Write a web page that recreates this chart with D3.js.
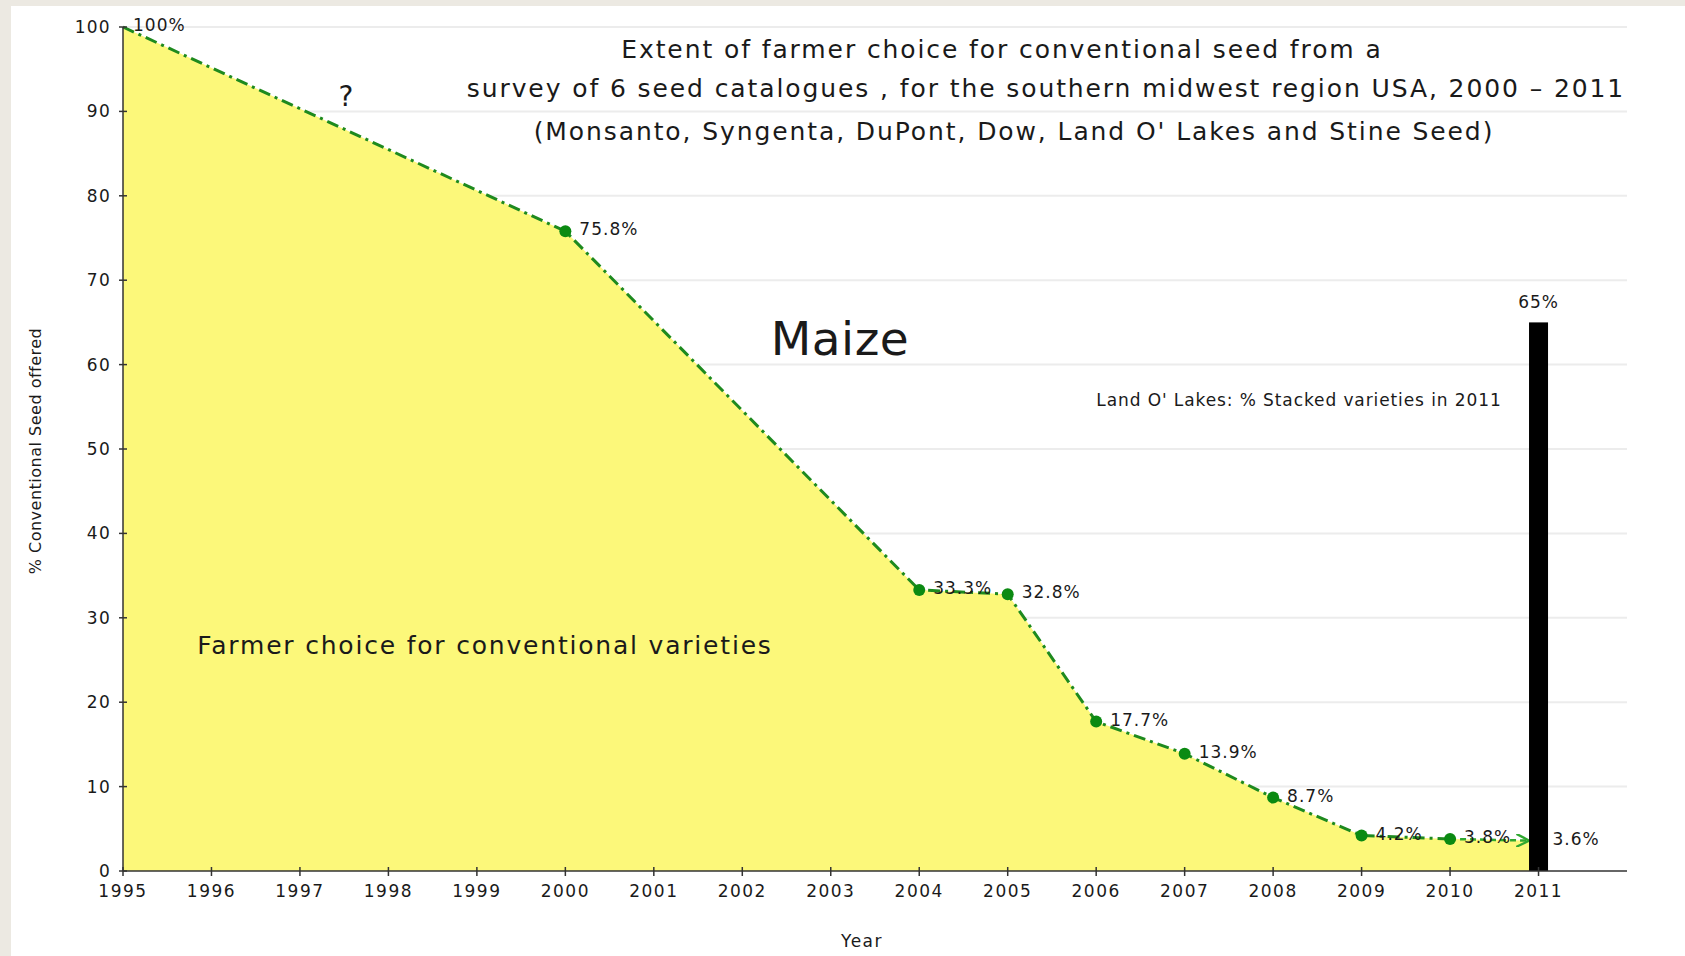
<!DOCTYPE html>
<html>
<head>
<meta charset="utf-8">
<script src="https://cdn.jsdelivr.net/npm/d3@7"></script>
<style>
  body { margin: 0; background: #ece9e2; }
  text { font-family: "DejaVu Sans", Verdana, sans-serif; fill: #1a1a1a; }
</style>
</head>
<body>
<svg id="chart" width="1685" height="956"></svg>
<script>
// maize, % conventional seed offered
const years = [1995, 2000, 2004, 2005, 2006, 2007, 2008, 2009, 2010, 2011];
const conventional = [100, 75.8, 33.3, 32.8, 17.7, 13.9, 8.7, 4.2, 3.8, 3.6];
const pointLabels = ["100%", "75.8%", "33.3%", "32.8%", "17.7%", "13.9%", "8.7%", "4.2%", "3.8%", "3.6%"];

// Land O' Lakes stacked varieties bar
const stackedYear = [2011];
const stackedValue = [65];
const stackedLabel = ["65%"];

const xTicks = d3.range(1995, 2012);
const yTicks = [0, 10, 20, 30, 40, 50, 60, 70, 80, 90, 100];

const titleLines = [
  "Extent of farmer choice for conventional seed from a",
  "survey of 6 seed catalogues ,  for the southern midwest region USA, 2000 \u2013 2011",
  "(Monsanto, Syngenta, DuPont, Dow, Land O' Lakes and Stine Seed)",
];

const svg = d3.select("#chart");
const W = 1685, H = 956;

// white page with beige edge top/left
svg.append("rect").attr("x", 11).attr("y", 6).attr("width", W - 11).attr("height", H - 6).attr("fill", "#fff");

const x = d3.scaleLinear().domain([1995, 2012]).range([123, 1627]);
const y = d3.scaleLinear().domain([0, 100]).range([871, 27]);

// grid lines
svg.append("g")
  .selectAll("line")
  .data(yTicks.filter((d) => d > 0))
  .enter()
  .append("line")
  .attr("x1", x(1995))
  .attr("x2", x(2012))
  .attr("y1", (d) => y(d))
  .attr("y2", (d) => y(d))
  .attr("stroke", "#ececec")
  .attr("stroke-width", 2);

const pts = years.map((yr, i) => ({ year: yr, value: conventional[i], label: pointLabels[i] }));

// yellow area under the line
const area = d3.area().x((d) => x(d.year)).y0(y(0)).y1((d) => y(d.value));
svg.append("path").datum(pts).attr("d", area).attr("fill", "#fcf87a");

const barW = 19;

// arrow marker for the last step
svg.append("defs")
  .append("marker")
  .attr("id", "arrow")
  .attr("viewBox", "0 0 10 10")
  .attr("refX", 9)
  .attr("refY", 5)
  .attr("markerWidth", 13)
  .attr("markerHeight", 13)
  .attr("markerUnits", "userSpaceOnUse")
  .attr("orient", "auto")
  .append("path")
  .attr("d", "M0,0 L10,5 L0,10")
  .attr("fill", "none")
  .attr("stroke", "#2fa82f")
  .attr("stroke-width", 1.8);

const line = d3.line().x((d) => x(d.year)).y((d) => y(d.value));
svg.append("path")
  .datum(pts.slice(0, pts.length - 1))
  .attr("d", line)
  .attr("fill", "none")
  .attr("stroke", "#1e8a1e")
  .attr("stroke-width", 3)
  .attr("stroke-dasharray", "12,5,3,5");

// last step ends as an arrow at the bar's left edge
const last = pts[pts.length - 1], prev = pts[pts.length - 2];
svg.append("line")
  .attr("x1", x(prev.year))
  .attr("y1", y(prev.value))
  .attr("x2", x(last.year) - barW / 2 - 1)
  .attr("y2", y(last.value))
  .attr("stroke", "#2fa82f")
  .attr("stroke-width", 2.5)
  .attr("stroke-dasharray", "6,4")
  .attr("marker-end", "url(#arrow)");

// black bar
svg.append("g")
  .selectAll("rect")
  .data(stackedYear)
  .enter()
  .append("rect")
  .attr("x", (d) => x(d) - barW / 2)
  .attr("y", (d, i) => y(stackedValue[i]))
  .attr("width", barW)
  .attr("height", (d, i) => y(0) - y(stackedValue[i]))
  .attr("fill", "#000");
svg.append("g")
  .selectAll("text")
  .data(stackedYear)
  .enter()
  .append("text")
  .attr("x", (d) => x(d))
  .attr("y", (d, i) => y(stackedValue[i]) - 14)
  .attr("text-anchor", "middle")
  .style("font-size", "17px")
  .style("letter-spacing", "1px")
  .text((d, i) => stackedLabel[i]);

// dots (no dot on the 1995 start or 2011 arrow end)
svg.append("g")
  .selectAll("circle")
  .data(pts.slice(1, pts.length - 1))
  .enter()
  .append("circle")
  .attr("cx", (d) => x(d.year))
  .attr("cy", (d) => y(d.value))
  .attr("r", 6)
  .attr("fill", "#0b8a12");

// point labels
svg.append("g")
  .selectAll("text")
  .data(pts)
  .enter()
  .append("text")
  .attr("x", (d, i) => x(d.year) + (i === 0 ? 10 : 14))
  .attr("y", (d, i) => y(d.value) + (i === 0 ? 4 : 4))
  .style("font-size", "17px")
  .style("letter-spacing", "1px")
  .text((d) => d.label);

// axes
const axisColor = "#333";
svg.append("line")
  .attr("x1", x(1995)).attr("x2", x(1995))
  .attr("y1", y(0)).attr("y2", y(100))
  .attr("stroke", axisColor).attr("stroke-width", 1.5);
svg.append("line")
  .attr("x1", x(1995)).attr("x2", x(2012))
  .attr("y1", y(0)).attr("y2", y(0))
  .attr("stroke", axisColor).attr("stroke-width", 1.5);

const yt = svg.append("g").selectAll("g").data(yTicks).enter().append("g");
yt.append("line")
  .attr("x1", x(1995) - 4).attr("x2", x(1995) + 4)
  .attr("y1", (d) => y(d)).attr("y2", (d) => y(d))
  .attr("stroke", axisColor).attr("stroke-width", 1.5);
yt.append("text")
  .attr("x", x(1995) - 12)
  .attr("y", (d) => y(d) + 6)
  .attr("text-anchor", "end")
  .style("font-size", "17px")
  .style("letter-spacing", "1.3px")
  .text((d) => d);

const xt = svg.append("g").selectAll("g").data(xTicks).enter().append("g");
xt.append("line")
  .attr("x1", (d) => x(d)).attr("x2", (d) => x(d))
  .attr("y1", y(0) - 4).attr("y2", y(0) + 5)
  .attr("stroke", axisColor).attr("stroke-width", 1.5);
xt.append("text")
  .attr("x", (d) => x(d))
  .attr("y", y(0) + 26)
  .attr("text-anchor", "middle")
  .style("font-size", "17px")
  .style("letter-spacing", "1.5px")
  .text((d) => d);

svg.append("text")
  .attr("transform", "translate(41,451) rotate(-90)")
  .attr("text-anchor", "middle")
  .style("font-size", "16px")
  .style("letter-spacing", "0.5px")
  .text("% Conventional Seed offered");

svg.append("text")
  .attr("x", 862)
  .attr("y", 947)
  .attr("text-anchor", "middle")
  .style("font-size", "17px")
  .style("letter-spacing", "1.5px")
  .text("Year");

// title
const titleX = [1002, 1046, 1014];
const titleY = [58, 97, 140];
svg.append("g")
  .selectAll("text")
  .data(titleLines)
  .enter()
  .append("text")
  .attr("x", (d, i) => titleX[i])
  .attr("y", (d, i) => titleY[i])
  .attr("text-anchor", "middle")
  .style("font-size", "25px")
  .style("letter-spacing", "1.9px")
  .text((d) => d);

// annotations
svg.append("text").attr("x", 346).attr("y", 106).attr("text-anchor", "middle")
  .style("font-size", "28px").text("?");
svg.append("text").attr("x", 840).attr("y", 355).attr("text-anchor", "middle")
  .style("font-size", "47px").style("letter-spacing", "0.5px").text("Maize");
svg.append("text").attr("x", 1299).attr("y", 406).attr("text-anchor", "middle")
  .style("font-size", "17px").style("letter-spacing", "0.9px")
  .text("Land O' Lakes: % Stacked varieties in 2011");
svg.append("text").attr("x", 485).attr("y", 654).attr("text-anchor", "middle")
  .style("font-size", "25px").style("letter-spacing", "1.8px")
  .text("Farmer choice for conventional varieties");
</script>
</body>
</html>
